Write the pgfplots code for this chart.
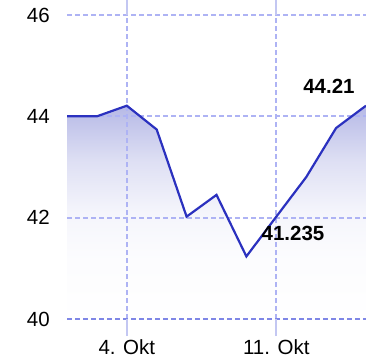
\documentclass[border=0pt]{standalone}
\usepackage{pgfplots}
\pgfplotsset{compat=1.18}
\usepackage{fontspec}
\setmainfont{Liberation Sans}
\definecolor{gridc}{HTML}{AEB3F4}
\definecolor{gridd}{HTML}{7F87E6}
\definecolor{tickc}{HTML}{C3C7F2}
\definecolor{linec}{HTML}{2B31BF}
\definecolor{fillc}{HTML}{B6B9E6}
\pgfdeclareverticalshading{areafade}{100bp}{color(0bp)=(white); color(25bp)=(white); color(40bp)=(fillc!5!white); color(50bp)=(fillc!14!white); color(62bp)=(fillc!45!white); color(75bp)=(fillc); color(100bp)=(fillc)}
\begin{document}
\begin{tikzpicture}
\begin{axis}[
  set layers,
  at={(0,0)}, anchor=south west,
  scale only axis, width=299pt, height=304pt,
  xmin=0, xmax=10, ymin=40, ymax=46,
  axis line style={draw=none},
  xtick={2,7}, xticklabels={4. Okt, 11. Okt},
  ytick={42,44,46},
  extra y ticks={40},
  extra y tick style={grid style={gridd, line width=1.8pt, dash pattern=on 5pt off 3pt}},
  grid=major,
  grid style={gridc, line width=1.8pt, dash pattern=on 5pt off 3pt},
  tick align=outside,
  major tick length=17pt,
  xtick style={tickc, line width=1.8pt},
  ytick style={draw=none},
  tick label style={font=\fontsize{20.5}{24}\selectfont, text=black, inner sep=0pt},
  xticklabel style={yshift=-3pt},
  yticklabel style={anchor=east},
  /pgf/number format/assume math mode=true,
  clip=true,
]
\addplot[draw=none, shading=areafade, forget plot, on layer=axis background] coordinates {
(0,44.0) (1,44.0) (2,44.21) (3,43.74) (4,42.02) (5,42.45) (6,41.235) (7,42.02) (8,42.8) (9,43.77) (10,44.21)
} \closedcycle;
\addplot[linec, line width=2.2pt, mark=none] coordinates {
(0,44.0) (1,44.0) (2,44.21) (3,43.74) (4,42.02) (5,42.45) (6,41.235) (7,42.02) (8,42.8) (9,43.77) (10,44.21)
};
\node[font=\fontsize{20.5}{24}\selectfont\bfseries] at (axis cs:8.76,44.60) {44.21};
\node[font=\fontsize{20.5}{24}\selectfont\bfseries] at (axis cs:7.56,41.68) {41.235};
\end{axis}
\pgfresetboundingbox
\path (-67pt,-40pt) rectangle (299pt,319pt);
\end{tikzpicture}
\end{document}
